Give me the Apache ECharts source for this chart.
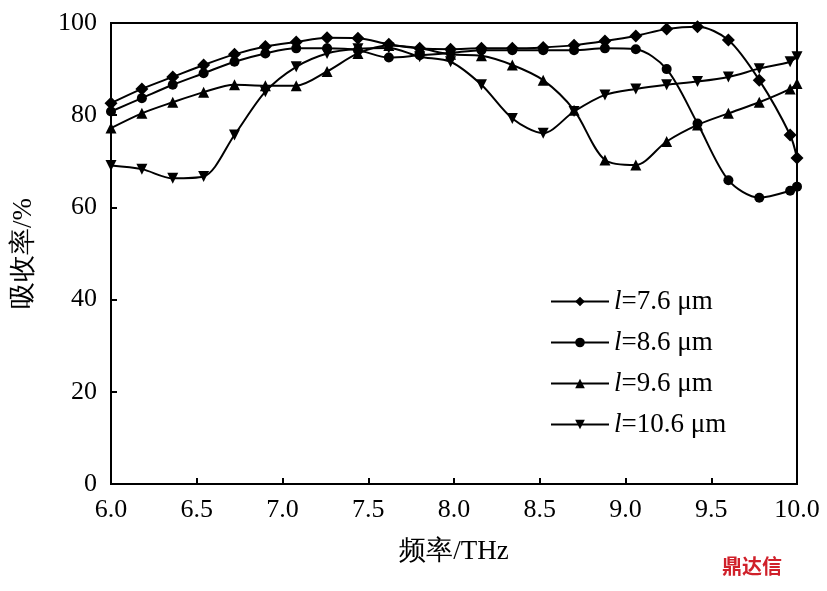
<!DOCTYPE html>
<html>
<head>
<meta charset="utf-8">
<script src="https://cdn.jsdelivr.net/npm/echarts@6/dist/echarts.min.js"></script>
<style>body{margin:0}#main{width:827px;height:591px}</style>
</head>
<body>
<div id="main"></div>
<script>
// 频率 (THz): marker every 0.18 THz, plus the end at 10.0
const freq = [];
for (let k = 0; k <= 22; k++) freq.push(+(6 + 0.18 * k).toFixed(2));
freq.push(10.0);

const l76 = [82.6,85.7,88.3,90.9,93.2,94.9,95.9,96.8,96.7,95.4,94.5,94.3,94.5,94.5,94.7,95.2,96.1,97.2,98.7,99.2,96.3,87.6,75.7,70.7];
const l86 = [80.8,83.7,86.6,89.1,91.6,93.4,94.5,94.5,94.1,92.5,93.0,93.5,94.1,94.1,94.1,94.1,94.5,94.3,90.0,78.2,65.9,62.1,63.6,64.5];
const l96 = [77.2,80.4,82.8,85.0,86.6,86.4,86.4,89.5,93.4,95.1,94.5,93.2,92.9,90.9,87.6,81.1,70.3,69.2,74.3,77.9,80.4,82.8,85.7,86.9];
const l106 = [69.1,68.3,66.3,66.7,75.7,85.1,90.5,93.4,94.4,94.6,92.7,91.6,86.6,79.3,76.1,80.8,84.4,85.7,86.6,87.3,88.3,90.1,91.6,92.7];

const names = ["7.6", "8.6", "9.6", "10.6"];
const symbols = ["diamond", "circle", "triangle", "path://M0,0L10,0L5,9Z"];
const sizes = [13, 10, 11, 11];
const values = [l76, l86, l96, l106];

const chart = echarts.init(document.getElementById("main"));
const font = "Liberation Serif";
chart.setOption({
  animation: false,
  textStyle: { fontFamily: font },
  grid: { left: 111, right: 30, top: 23, bottom: 107 },
  xAxis: {
    type: "value", min: 6, max: 10, interval: 0.5,
    name: "频率/THz", nameLocation: "middle", nameGap: 54,
    nameTextStyle: { fontSize: 27, color: "#000", fontFamily: font },
    axisLine: { lineStyle: { color: "#000", width: 2 } },
    axisTick: { inside: true, length: 6, lineStyle: { color: "#000", width: 2 } },
    axisLabel: { fontSize: 26, color: "#000", margin: 13, formatter: v => v.toFixed(1) },
    splitLine: { show: false }
  },
  yAxis: {
    type: "value", min: 0, max: 100, interval: 20,
    name: "吸收率/%", nameLocation: "middle", nameGap: 74,
    nameTextStyle: { fontSize: 27, color: "#000", fontFamily: font },
    axisLine: { show: true, lineStyle: { color: "#000", width: 2 } },
    axisTick: { inside: true, length: 6, lineStyle: { color: "#000", width: 2 } },
    axisLabel: { fontSize: 26, color: "#000", margin: 14 },
    splitLine: { show: false }
  },
  legend: {
    orient: "vertical", left: 545, top: 283, itemGap: 14,
    itemWidth: 58, itemHeight: 12,
    textStyle: {
      fontSize: 27, color: "#000",
      rich: { i: { fontStyle: "italic", fontSize: 27, fontFamily: font } }
    },
    formatter: n => "{i|l}=" + n + " μm",
    data: names
  },
  graphic: [
    { type: "rect", shape: { x: 111, y: 23, width: 686, height: 461 }, style: { fill: "none", stroke: "#000", lineWidth: 2 } },
    { type: "text", left: 722, top: 556, style: { text: "鼎达信", fontSize: 20, fontWeight: "bold", fill: "#d0202a", fontFamily: "Noto Sans CJK SC" } }
  ],
  series: values.map((vals, i) => ({
    name: names[i], type: "line", smooth: 0.3,
    data: freq.map((f, k) => [f, vals[k]]),
    symbol: symbols[i], symbolSize: sizes[i], showAllSymbol: true,
    lineStyle: { color: "#000", width: 2 },
    itemStyle: { color: "#000" }
  }))
});
</script>
</body>
</html>
